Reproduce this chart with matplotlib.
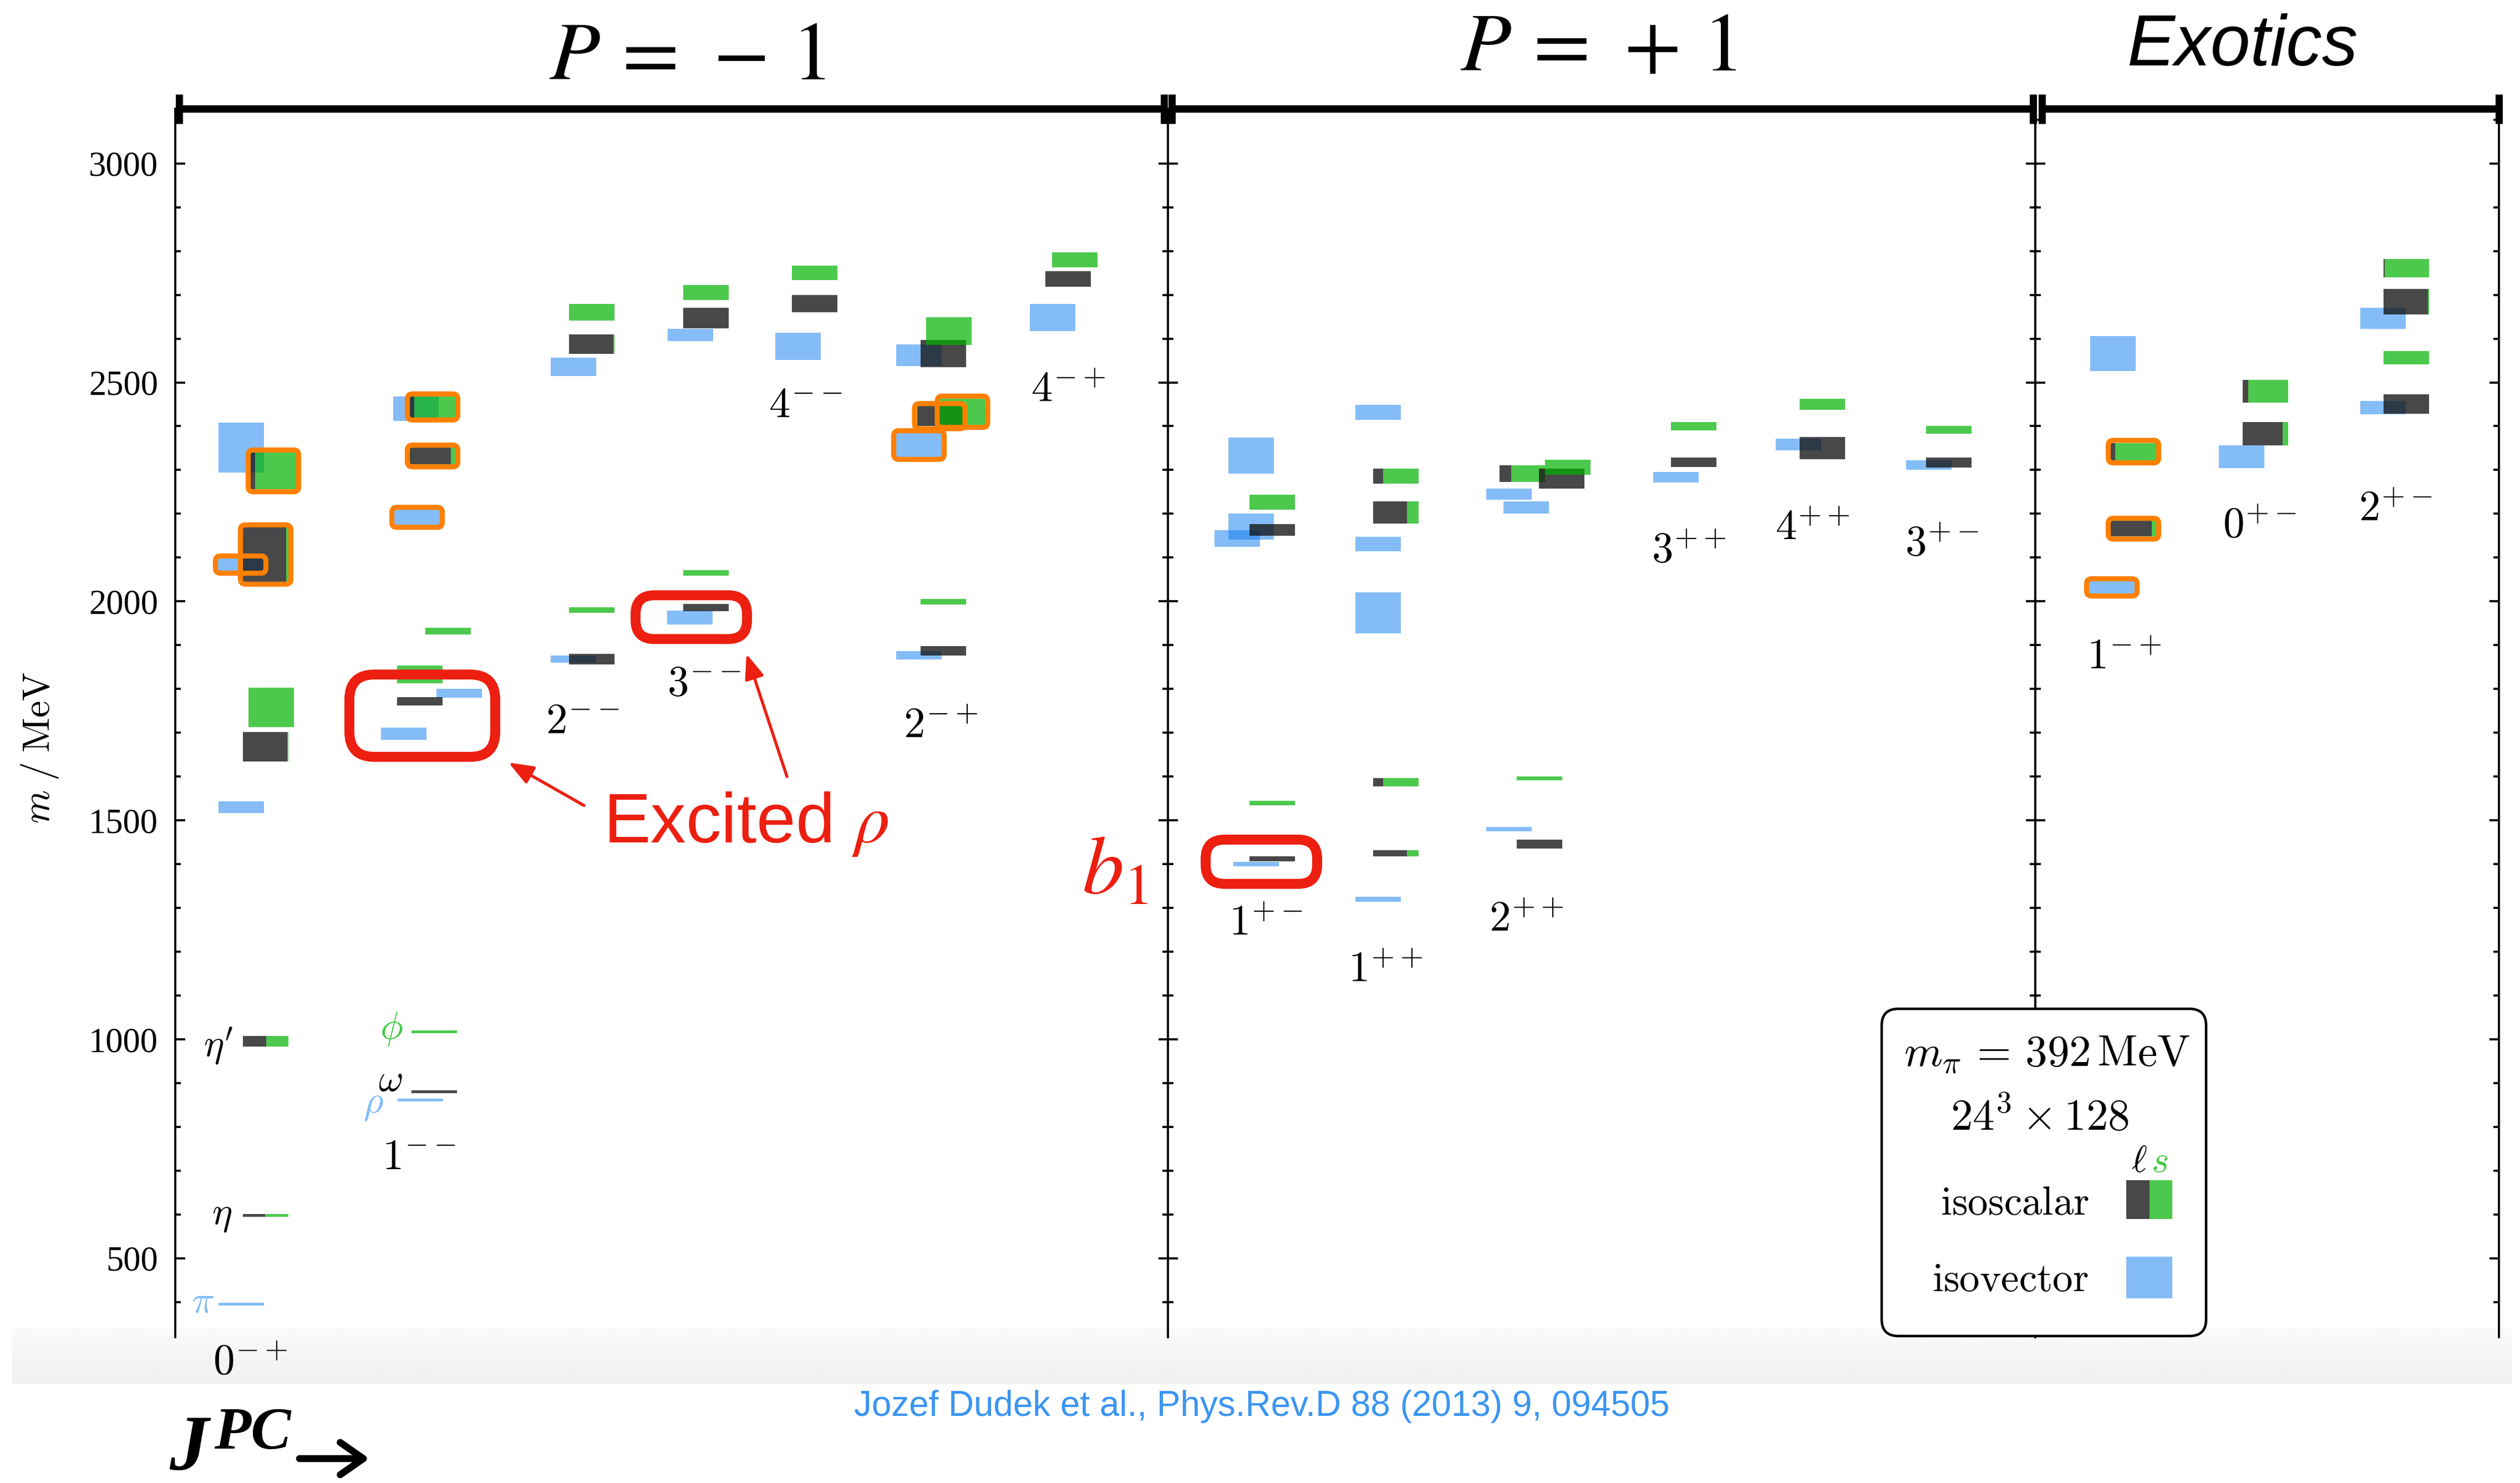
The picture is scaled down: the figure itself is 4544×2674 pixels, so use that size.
import numpy as np
import matplotlib
matplotlib.use("Agg")
import matplotlib.pyplot as plt
from matplotlib.patches import FancyBboxPatch, Rectangle
from matplotlib.ticker import MultipleLocator

plt.rcParams["font.family"] = ["Liberation Serif", "DejaVu Serif"]
plt.rcParams["mathtext.fontset"] = "cm"

# columns of J^PC, panel they sit in and where the column sits in it
columns = ["0-+", "1--", "2--", "3--", "4--", "2-+", "4-+",
           "1+-", "1++", "2++", "3++", "4++", "3+-",
           "1-+", "0+-", "2+-"]
col_panel = [0, 0, 0, 0, 0, 0, 0, 1, 1, 1, 1, 1, 1, 2, 2, 2]
col_x = [1.63, 4.67, 7.51, 9.565, 11.527, 13.85, 16.215,
         1.88, 4.105, 6.695, 9.48, 11.80, 14.075,
         1.77, 4.145, 6.69]
lab_x = [1.35, 4.39, 7.34, 9.535, 11.365, 13.80, 16.10,
         1.765, 3.92, 6.46, 9.395, 11.62, 13.955,
         1.60, 4.045, 6.495]
lab_m = [258, 727, 1723, 1808, 2444, 1712, 2480,
         1261, 1155, 1270, 2113, 2164, 2128,
         1870, 2170, 2207]

# isovector states (MeV): column, offset in column, mass, uncertainty, hybrid flag
iv_col = ["0-+", "0-+", "0-+", "0-+",
          "1--", "1--", "1--", "1--", "1--",
          "2--", "2--",
          "3--", "3--",
          "4--",
          "2-+", "2-+", "2-+",
          "4-+",
          "1+-", "1+-", "1+-", "1+-",
          "1++", "1++", "1++", "1++",
          "2++", "2++", "2++",
          "3++",
          "4++",
          "3+-",
          "1-+", "1-+",
          "0+-",
          "2+-", "2+-"]
iv_dx = [-0.44, -0.44, -0.45, -0.44,
         -0.255, -0.555, 0.45, -0.31, -0.33,
         -0.33, -0.33,
         -0.285, -0.28,
         -0.30,
         -0.44, -0.44, -0.44,
         -0.395,
         -0.29, -0.63, -0.38, -0.38,
         -0.315, -0.315, -0.315, -0.315,
         -0.545, -0.235, -0.545,
         -0.32,
         -0.43,
         -0.355,
         -0.39, -0.375,
         -0.425,
         -0.425, -0.425]
iv_mass = [395, 1530, 2084, 2351,
           861, 1698, 1790, 2192, 2440,
           1868, 2535,
           1963, 2608,
           2582,
           1877, 2357, 2562,
           2648,
           1400, 2143, 2171, 2333,
           1320, 1974, 2131, 2432,
           1480, 2214, 2245,
           2283,
           2358,
           2311,
           2032, 2566,
           2330,
           2442, 2646]
iv_err = [3, 13, 14, 57,
          3, 14, 10, 17, 28,
          8, 21,
          16, 14,
          31,
          9, 27, 25,
          31,
          5, 19, 30, 41,
          6, 47, 16, 17,
          5, 14, 13,
          12,
          13,
          11,
          14, 40,
          26,
          15, 24]
iv_hl = [0, 0, 1, 0,
         0, 0, 0, 1, 0,
         0, 0,
         0, 0,
         0,
         0, 1, 0,
         0,
         0, 0, 0, 0,
         0, 0, 0, 0,
         0, 0, 0,
         0,
         0,
         0,
         1, 0,
         0,
         0, 0]

# isoscalar states: same, plus light-quark fraction (rest is strange)
is_col = ["0-+", "0-+", "0-+", "0-+", "0-+", "0-+",
          "1--", "1--", "1--", "1--", "1--", "1--", "1--",
          "2--", "2--", "2--", "2--",
          "3--", "3--", "3--", "3--",
          "4--", "4--",
          "2-+", "2-+", "2-+", "2-+", "2-+", "2-+",
          "4-+", "4-+",
          "1+-", "1+-", "1+-", "1+-",
          "1++", "1++", "1++", "1++",
          "2++", "2++", "2++", "2++", "2++",
          "3++", "3++",
          "4++", "4++",
          "3+-", "3+-",
          "1-+", "1-+",
          "0+-", "0+-",
          "2+-", "2+-", "2+-", "2+-"]
is_dx = [0, 0, 0, 0.10, 0, 0.14,
         0, 0, -0.26, -0.26, 0.25, -0.03, -0.03,
         0, 0, 0, 0,
         0, 0, 0, 0,
         0, 0,
         0, 0, -0.065, 0.345, 0, 0.10,
         -0.115, 0,
         0, 0, 0, 0,
         0, 0, 0, 0,
         0, 0, -0.305, 0.405, 0.515,
         0, 0,
         0, 0,
         0, 0,
         0, 0,
         0, 0,
         0, 0, 0, 0]
is_mass = [598, 995, 1668, 1758, 2107, 2298,
           880, 1017, 1772, 1833, 1932, 2332, 2444,
           1868, 1980, 2587, 2660,
           1986, 2065, 2647, 2705,
           2680, 2750,
           1887, 1999, 2423, 2433, 2566, 2617,
           2736, 2780,
           1412, 1540, 2163, 2226,
           1425, 1587, 2203, 2286,
           1446, 1596, 2292, 2280, 2306,
           2318, 2400,
           2350, 2450,
           2317, 2392,
           2166, 2342,
           2383, 2480,
           2451, 2556, 2684, 2761]
is_err = [3, 12, 34, 45, 62, 42,
          3, 3, 10, 20, 8, 19, 24,
          12, 6, 22, 19,
          8, 6, 23, 17,
          20, 16,
          11, 6, 23, 30, 31, 32,
          18, 17,
          6, 5, 13, 17,
          7, 9, 25, 17,
          10, 4, 19, 23, 17,
          11, 10,
          25, 13,
          11, 9,
          18, 20,
          27, 26,
          22, 15, 29, 21]
is_light = [0.49, 0.51, 0.97, 0.0, 0.95, 0.10,
            1.0, 0.0, 1.0, 0.0, 0.0, 0.90, 0.10,
            1.0, 0.0, 0.98, 0.0,
            1.0, 0.0, 1.0, 0.0,
            1.0, 0.0,
            1.0, 0.0, 1.0, 0.0, 1.0, 0.0,
            1.0, 0.0,
            1.0, 0.0, 1.0, 0.0,
            0.75, 0.22, 0.75, 0.22,
            1.0, 0.0, 0.25, 1.0, 0.0,
            1.0, 0.0,
            1.0, 0.0,
            1.0, 0.0,
            0.90, 0.10,
            0.88, 0.13,
            1.0, 0.0, 0.98, 0.02]
is_hl = [0, 0, 0, 0, 1, 1,
         0, 0, 0, 0, 0, 1, 1,
         0, 0, 0, 0,
         0, 0, 0, 0,
         0, 0,
         0, 0, 1, 1, 0, 0,
         0, 0,
         0, 0, 0, 0,
         0, 0, 0, 0,
         0, 0, 0, 0, 0,
         0, 0,
         0, 0,
         0, 0,
         1, 1,
         0, 0,
         0, 0, 0, 0]

# ground-state names next to their lines (panel 0)
names = [r"$\pi$", r"$\eta$", r"$\eta'$", r"$\phi$", r"$\omega$", r"$\rho$"]
name_x = [0.50, 0.84, 0.775, 3.90, 3.88, 3.575]
name_m = [397, 597, 985, 1024, 904, 851]

W, H, DPI = 4544, 2674, 300
BLUE, DARK, GREEN = "#0a7af0", "#141414", "#00b200"
BLUE_T, GREEN_T = "#80bbf8", "#46c946"
ORANGE, RED = "#ff8000", "#ec1f10"

fig = plt.figure(figsize=((W + 0.01) / DPI, (H + 0.01) / DPI), dpi=DPI)

edges = [316, 2106, 3670, 4506]
y_top, y_bot = 196, 2411
m_lo, m_hi = 320, 3125
PXU = 100.0
aspect = PXU / ((y_bot - y_top) / (m_hi - m_lo))
BW = 0.82

# light band along the bottom
bg = fig.add_axes([0, 0, 1, 1], zorder=-1)
grad = np.linspace(0.978, 0.94, 60).reshape(-1, 1)
bg.imshow(grad, extent=(22, 4528, 2495, 2396), cmap="gray", vmin=0, vmax=1,
          aspect="auto", interpolation="bilinear")
bg.set_xlim(0, W)
bg.set_ylim(H, 0)
bg.axis("off")

axes = []
for i in range(3):
    ax = fig.add_axes([edges[i] / W, 1 - y_bot / H,
                       (edges[i + 1] - edges[i]) / W, (y_bot - y_top) / H])
    ax.set_xlim(0, (edges[i + 1] - edges[i]) / PXU)
    ax.set_ylim(m_lo, m_hi)
    ax.patch.set_visible(False)
    ax.spines["top"].set_visible(False)
    ax.spines["bottom"].set_visible(False)
    ax.spines["left"].set_linewidth(0.9)
    ax.spines["right"].set_linewidth(0.9)
    ax.set_xticks([])
    ax.yaxis.set_major_locator(MultipleLocator(500))
    ax.yaxis.set_minor_locator(MultipleLocator(100))
    ax.tick_params(axis="y", which="both", direction="in", left=True, right=True,
                   labelleft=(i == 0), labelright=False, width=0.9)
    ax.tick_params(axis="y", which="major", length=4.2, pad=7.5, labelsize=15)
    ax.tick_params(axis="y", which="minor", length=2.4)
    axes.append(ax)

cidx = {c: k for k, c in enumerate(columns)}


def outline(ax, xc, m, e):
    ax.add_patch(FancyBboxPatch((xc - BW / 2, m - e), BW, 2 * e,
                                boxstyle="round,pad=0.045,rounding_size=0.09",
                                mutation_aspect=aspect, fill=False,
                                edgecolor=ORANGE, linewidth=2.2, zorder=5,
                                clip_on=False))


for c, dx, m, e, hl in zip(iv_col, iv_dx, iv_mass, iv_err, iv_hl):
    k = cidx[c]
    ax = axes[col_panel[k]]
    xc = col_x[k] + dx
    ax.bar(xc, 2 * e, width=BW, bottom=m - e, color=BLUE, alpha=0.5,
           linewidth=0, zorder=2)
    if hl:
        outline(ax, xc, m, e)

for c, dx, m, e, lf, hl in zip(is_col, is_dx, is_mass, is_err, is_light, is_hl):
    k = cidx[c]
    ax = axes[col_panel[k]]
    x0 = col_x[k] + dx - BW / 2
    wl = BW * lf
    if lf > 0:
        ax.bar(x0, 2 * e, width=wl, bottom=m - e, align="edge", color=DARK,
               alpha=0.78, linewidth=0, zorder=3)
    if lf < 1:
        ax.bar(x0 + wl, 2 * e, width=BW - wl, bottom=m - e, align="edge",
               color=GREEN, alpha=0.7, linewidth=0, zorder=3)
    if hl:
        outline(ax, x0 + BW / 2, m, e)

for k, c in enumerate(columns):
    axes[col_panel[k]].text(lab_x[k], lab_m[k], r"$%s^{%s}$" % (c[0], c[1:]),
                            size=18.5, ha="center", va="center")

name_col = [BLUE_T, "black", "black", GREEN_T, "black", BLUE_T]
for t, x, m, col in zip(names, name_x, name_m, name_col):
    axes[0].text(x, m, t, size=16.5, color=col, ha="center", va="center")

# red call-outs
rboxes = [(0, 3.14, 1645, 2.63, 188, 0.45),
          (0, 8.30, 1914, 2.01, 100, 0.34),
          (1, 0.68, 1355, 2.01, 101, 0.34)]
for p, x, y, w, h, r in rboxes:
    axes[p].add_patch(FancyBboxPatch((x, y), w, h,
                                     boxstyle="round,pad=0,rounding_size=%g" % r,
                                     mutation_aspect=aspect, fill=False,
                                     edgecolor=RED, linewidth=4.3, zorder=6,
                                     clip_on=False))

axes[0].text(7.72, 1450, r"Excited $\rho$", family="Liberation Sans", size=30.5,
             color=RED, math_fontfamily="stix", ha="left", va="baseline")
arrow = dict(arrowstyle="-|>,head_length=0.9,head_width=0.35", color=RED,
             lw=1.3, shrinkA=0, shrinkB=0)
axes[0].annotate("", xy=(6.01, 1632), xytext=(7.37, 1534), arrowprops=arrow)
axes[0].annotate("", xy=(10.30, 1880), xytext=(11.03, 1600), arrowprops=arrow)
axes[0].text(16.94, 1379, r"$b_1$", size=36, color=RED, math_fontfamily="stix",
             ha="center", va="center")

# overlay in pixel units for headers, legend and captions
ov = fig.add_axes([0, 0, 1, 1], zorder=10)
ov.set_xlim(0, W)
ov.set_ylim(H, 0)
ov.axis("off")

for x0, x1 in [(323, 2099), (2113, 3666), (3682, 4506)]:
    ov.plot([x0, x1], [196, 196], color="black", lw=3.2, solid_capstyle="butt")
    for xx in (x0, x1):
        ov.plot([xx, xx], [170, 223], color="black", lw=3.1, solid_capstyle="butt")

ov.text(1240, 143, r"$P\,=\,-\,1$", math_fontfamily="stix", size=36,
        ha="center", va="baseline")
ov.text(2883, 127, r"$P\,=\,+\,1$", math_fontfamily="stix", size=36,
        ha="center", va="baseline")
ov.text(4043, 118, "Exotics", family="Liberation Sans", style="italic", size=31,
        ha="center", va="baseline")

ov.text(72, 1348, r"$m\;/\;\mathrm{MeV}$", size=16.5, rotation=90,
        ha="center", va="center")

# legend box
ov.add_patch(FancyBboxPatch((3393, 1819), 585, 590,
                            boxstyle="round,pad=0,rounding_size=30",
                            facecolor="white", edgecolor="black", lw=1.1, zorder=1))
ov.text(3691, 1922, r"$m_\pi\, =\, 392\,\mathrm{MeV}$", size=19,
        ha="center", va="baseline", zorder=2)
ov.text(3678, 2038, r"$24^3\times 128$", size=19, ha="center", va="baseline",
        zorder=2)
ov.text(3857, 2113, r"$\ell$", size=16, ha="center", va="baseline", zorder=2)
ov.text(3894, 2113, r"$s$", size=16, color=GREEN_T, ha="center", va="baseline",
        zorder=2)
ov.text(3633, 2190, r"$\mathrm{isoscalar}$", size=17.5, ha="center",
        va="baseline", zorder=2)
ov.text(3625, 2328, r"$\mathrm{isovector}$", size=17.5, ha="center",
        va="baseline", zorder=2)
ov.add_patch(Rectangle((3834, 2128), 42, 70, color=DARK, alpha=0.78, lw=0, zorder=2))
ov.add_patch(Rectangle((3876, 2128), 41, 70, color=GREEN, alpha=0.7, lw=0, zorder=2))
ov.add_patch(Rectangle((3834, 2266), 83, 75, color=BLUE, alpha=0.5, lw=0, zorder=2))

ov.text(2275, 2536, "Jozef Dudek et al., Phys.Rev.D 88 (2013) 9, 094505",
        family="Liberation Sans", size=15.3, color="#3b95f0",
        ha="center", va="center")

ov.text(305, 2650, "J", family="Liberation Serif", weight="bold", style="italic",
        size=34, ha="left", va="baseline")
ov.text(386, 2612, "PC", family="Liberation Serif", weight="bold", style="italic",
        size=26, ha="left", va="baseline")
ov.annotate("", xy=(666, 2630), xytext=(540, 2630),
            arrowprops=dict(arrowstyle="->,head_length=1.0,head_width=0.7",
                            color="black", lw=3.0, shrinkA=0, shrinkB=0))

fig.savefig("out.png", dpi=DPI)
